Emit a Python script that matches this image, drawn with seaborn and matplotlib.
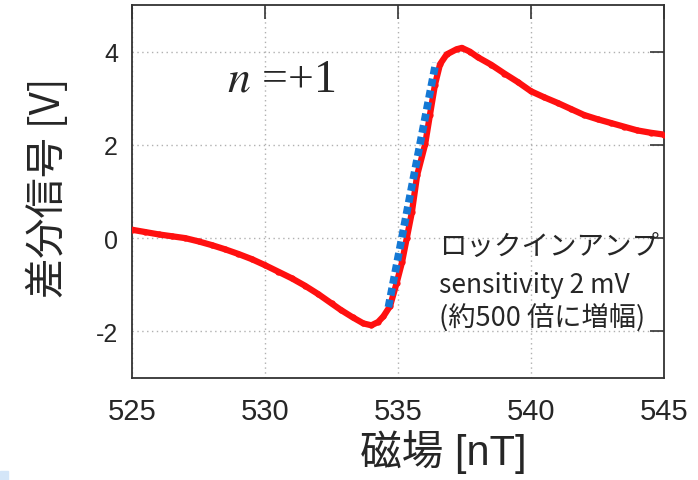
import matplotlib
matplotlib.use("Agg")
import matplotlib.pyplot as plt
from matplotlib import font_manager
from matplotlib.patches import Rectangle
import seaborn as sns
import pandas as pd

# Lock-in differential signal versus applied field
field_nT = [525.0, 525.5, 526.0, 526.5, 527.0, 527.5, 528.0, 528.5, 529.0, 529.5,
            530.0, 530.5, 531.0, 531.5, 532.0, 532.5, 532.85, 533.3, 533.7, 534.0,
            534.25, 534.45, 534.7, 534.95, 535.15, 535.33, 535.52, 535.72, 536.02, 536.2,
            536.39, 536.58, 536.83, 537.2, 537.4, 537.7, 538.0, 538.5, 539.0, 539.5,
            540.0, 540.5, 541.0, 541.5, 542.0, 542.5, 543.0, 543.5, 544.0, 544.5, 545.0]
signal_V = [0.18, 0.13, 0.08, 0.04, 0.00, -0.07, -0.15, -0.24, -0.34, -0.45,
            -0.58, -0.72, -0.86, -1.02, -1.20, -1.40, -1.54, -1.70, -1.83, -1.87,
            -1.80, -1.68, -1.46, -0.96, -0.52, 0.00, 0.55, 1.35, 2.01, 2.64,
            3.29, 3.73, 3.94, 4.05, 4.08, 4.00, 3.88, 3.72, 3.53, 3.35,
            3.15, 3.02, 2.90, 2.77, 2.64, 2.55, 2.47, 2.39, 2.31, 2.26, 2.22]

# Linear fit across the zero crossing
fit_field = [534.64, 536.42]
fit_signal = [-1.48, 3.76]

x_ticks = [525, 530, 535, 540, 545]
y_ticks = [-2, 0, 2, 4]

x_label = "磁場 [nT]"
y_label = "差分信号 [V]"
note_lines = ["ロックインアンプ", "sensitivity 2 mV", "(約500 倍に増幅)"]

sns.set_style("white")

installed = {f.name for f in font_manager.fontManager.ttflist}
def pick(*names):
    return [n for n in names if n in installed] or ["DejaVu Sans"]

SANS = pick("Liberation Sans", "Arial", "DejaVu Sans")
NARROW = pick("Liberation Sans Narrow", "Liberation Sans", "DejaVu Sans")
CJK = pick("Noto Sans CJK JP", "Noto Sans CJK SC")
SERIF = pick("Liberation Serif", "DejaVu Serif")

plt.rcParams["font.family"] = SANS + CJK
plt.rcParams["mathtext.fontset"] = "stix"

fig = plt.figure(figsize=(6.98, 4.81), dpi=100)
ax = fig.add_axes([132 / 698, 1 - 379 / 481, (664 - 132) / 698, (379 - 6) / 481])

df = pd.DataFrame({"field": field_nT, "signal": signal_V})
fit_df = pd.DataFrame({"field": fit_field, "signal": fit_signal})

sns.lineplot(data=df, x="field", y="signal", ax=ax, color="#ff1010", lw=4.5,
             marker="o", markersize=4.5, markeredgewidth=0, zorder=3)
sns.lineplot(data=fit_df, x="field", y="signal", ax=ax, color="#1478d4", lw=5.5,
             linestyle=(0, (1.0, 0.55)), dash_capstyle="butt", zorder=4)

ax.set_xlim(525, 545)
ax.set_ylim(-3, 5)
ax.set_xticks(x_ticks)
ax.set_yticks(y_ticks)
ax.set_xticklabels([str(v) for v in x_ticks], fontfamily=SANS, fontsize=21)
ax.set_yticklabels([str(v) for v in y_ticks], fontfamily=SANS, fontsize=18)

ax.grid(True, color="#b0b0b0", linestyle=(0, (1, 2.5)), linewidth=1.0)
ax.tick_params(axis="both", direction="in", length=10, width=1.2, color="#333333",
               top=True, right=True)
ax.tick_params(axis="x", pad=14)
ax.tick_params(axis="y", pad=10)
for s in ax.spines.values():
    s.set_color("#333333")
    s.set_linewidth(1.3)

ax.set_xlabel("")
ax.set_ylabel("")
fig.text(443 / 698, 1 - 452 / 481, x_label, ha="center", va="center",
         fontsize=30, family=NARROW + CJK)
fig.text(48 / 698, 1 - 188 / 481, y_label, ha="center", va="center",
         rotation=90, fontsize=29, family=CJK)

ax.text(530.6, 3.4, r"$n$ =+1", ha="center", va="center", fontsize=33,
        family=SERIF)

ax.text(536.55, -0.17, note_lines[0], ha="left", va="center", fontsize=19.8, family=CJK)
ax.text(536.55, -0.99, note_lines[1], ha="left", va="center", fontsize=19.0, family=CJK)
ax.text(536.55, -1.69, note_lines[2], ha="left", va="center", fontsize=19.6, family=CJK)

fig.patches.append(Rectangle((0, 0), 8 / 698, 9 / 481, transform=fig.transFigure,
                             color="#d4e6f8", zorder=0))

fig.savefig("out.png", dpi=100)
